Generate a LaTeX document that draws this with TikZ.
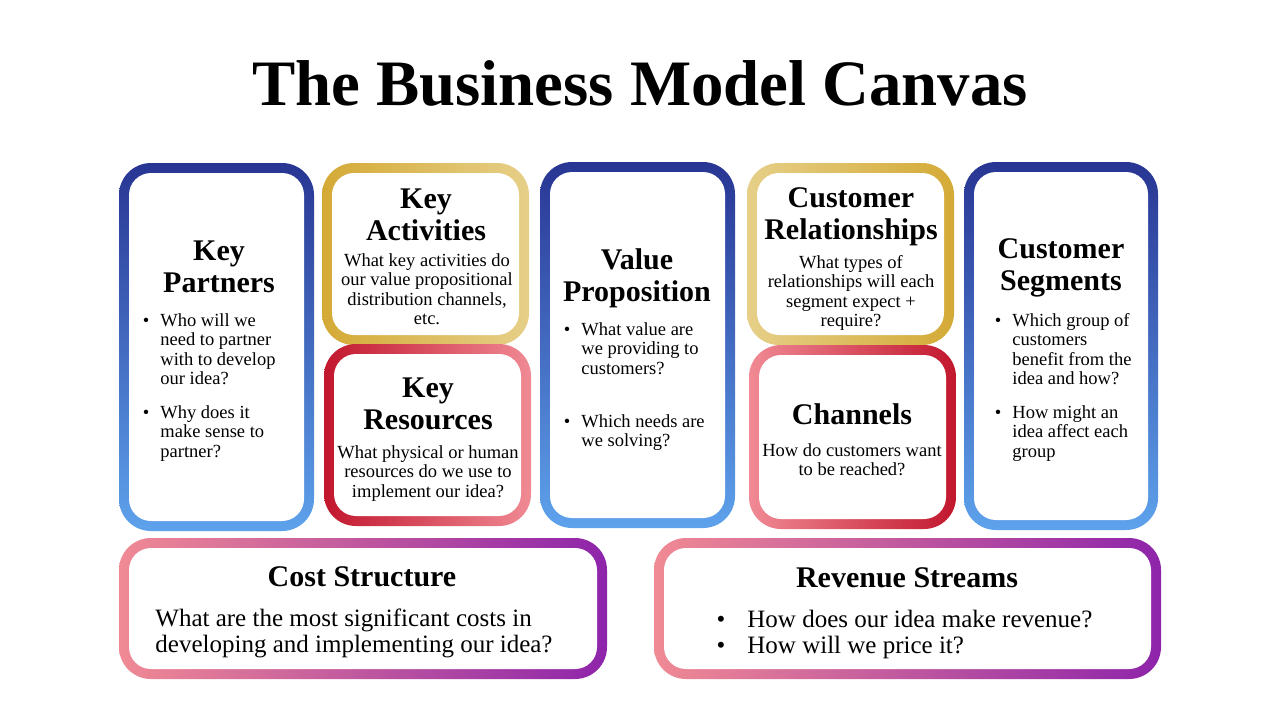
\documentclass[tikz,border=0pt]{standalone}
\usepackage{fontspec}
\setmainfont{Liberation Serif}
\usetikzlibrary{positioning}
\definecolor{bdark}{HTML}{283593}
\definecolor{blight}{HTML}{5EA2EC}
\definecolor{gdark}{HTML}{D4AA36}
\definecolor{glight}{HTML}{E6CF88}
\definecolor{rdark}{HTML}{C2172E}
\definecolor{rlight}{HTML}{F08A94}
\definecolor{cpurple}{HTML}{8E24AA}

% gradient frame round a named box node
\newcommand{\canvasframe}[2]{%
  \shade[rounded corners=16pt,#2] (#1.south west) rectangle (#1.north east);
  \fill[white,rounded corners=11pt] ([shift={(5pt,5pt)}]#1.south west)
    rectangle ([shift={(-5pt,-5pt)}]#1.north east);}
\newcommand{\bul}[1][5.5pt]{\leavevmode\llap{\textbullet\hspace{#1}}}

\begin{document}
\begin{tikzpicture}[
    x=0.5pt, y=-0.5pt,
    cbox/.style={inner sep=0pt, outer sep=0pt},
    title/.style={font=\fontsize{32.4}{36}\selectfont\bfseries, anchor=north, inner sep=0pt},
    head/.style={font=\fontsize{15}{16}\selectfont\bfseries, align=center, anchor=north, inner sep=0pt},
    body/.style={font=\fontsize{9.25}{9.75}\selectfont, align=center, anchor=north, inner sep=0pt},
    blist/.style={font=\fontsize{9.25}{9.75}\selectfont, align=left, anchor=north west, inner sep=0pt},
    wide/.style={font=\fontsize{12.5}{13}\selectfont, align=left, anchor=north west, inner sep=0pt},
]
\fill[white] (0,0) rectangle (1280,720);
\useasboundingbox (0,0) rectangle (1280,720);

\node[title] (title) at (640,60) {The Business Model Canvas};

% boxes
\node[cbox, minimum width=97.5pt, minimum height=184pt] (kp) at (216.5,347) {};
\node[cbox, minimum width=103.5pt, minimum height=91pt] (ka) at (425.5,254) {};
\node[cbox, minimum width=103.5pt, minimum height=91pt] (kr) at (427.5,435) {};
\node[cbox, minimum width=97.5pt, minimum height=183pt] (vp) at (637.5,345) {};
\node[cbox, minimum width=103.5pt, minimum height=91pt] (cr) at (850.5,254) {};
\node[cbox, minimum width=103.5pt, minimum height=92pt] (ch) at (852.5,437) {};
\node[cbox, minimum width=97pt, minimum height=184pt] (cs) at (1061,346) {};
\node[cbox, minimum width=244pt, minimum height=70.5pt] (cost) at (363,608.5) {};
\node[cbox, minimum width=253.5pt, minimum height=70.5pt] (rev) at (907.5,608.5) {};

\canvasframe{kp}{top color=bdark, bottom color=blight}
\canvasframe{ka}{left color=gdark, right color=glight}
\canvasframe{kr}{left color=rdark, right color=rlight}
\canvasframe{vp}{top color=bdark, bottom color=blight}
\canvasframe{cr}{left color=glight, right color=gdark}
\canvasframe{ch}{left color=rlight, right color=rdark}
\canvasframe{cs}{top color=bdark, bottom color=blight}
\canvasframe{cost}{left color=rlight, right color=cpurple}
\canvasframe{rev}{left color=rlight, right color=cpurple}

% texts
\node[head] (kp-head) at (219,240) {Key\\Partners};
\node[blist] (kp-b1) at (160,313) {\bul Who will we\\need to partner\\with to develop\\our idea?};
\node[blist] (kp-b2) at (160,405) {\bul Why does it\\make sense to\\partner?};

\node[head] (ka-head) at (426,188) {Key\\Activities};
\node[body] (ka-text) at (427,253) {What key activities do\\our value propositional\\distribution channels,\\etc.};

\node[head] (kr-head) at (428,377) {Key\\Resources};
\node[body] (kr-text) at (428,445) {What physical or human\\resources do we use to\\implement our idea?};

\node[head] (vp-head) at (637,248) {Value\\Proposition};
\node[blist] (vp-b1) at (581,322) {\bul What value are\\we providing to\\customers?};
\node[blist] (vp-b2) at (581,414) {\bul Which needs are\\we solving?};

\node[head] (cr-head) at (851,187) {Customer\\Relationships};
\node[body] (cr-text) at (851,255) {What types of\\relationships will each\\segment expect +\\require?};

\node[head] (ch-head) at (852,403) {Channels};
\node[body] (ch-text) at (852,443) {How do customers want\\to be reached?};

\node[head] (cs-head) at (1061,238) {Customer\\Segments};
\node[blist] (cs-b1) at (1012,313) {\bul Which group of\\customers\\benefit from the\\idea and how?};
\node[blist] (cs-b2) at (1012,405) {\bul How might an\\idea affect each\\group};

\node[head] (cost-head) at (362,566) {Cost Structure};
\node[wide] (cost-text) at (155,608) {What are the most significant costs in\\developing and implementing our idea?};

\node[head] (rev-head) at (907,567) {Revenue Streams};
\node[wide] (rev-text) at (747,610) {\bul[11pt]How does our idea make revenue?\\\bul[11pt]How will we price it?};
\end{tikzpicture}
\end{document}
